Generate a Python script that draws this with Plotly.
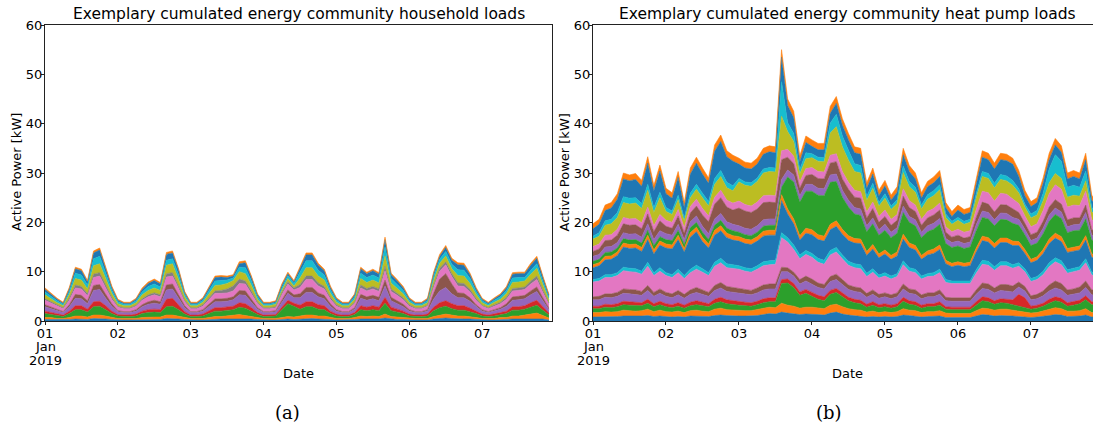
import pandas as pd
import plotly.graph_objects as go

# ---------------- time axis (2-hourly samples, 1-7 Jan 2019) ----------------
times = pd.date_range("2019-01-01 00:00", periods=84, freq="2h")
day_ticks = ["2019-01-01", "2019-01-02", "2019-01-03", "2019-01-04",
             "2019-01-05", "2019-01-06", "2019-01-07"]
day_labels = ["01", "02", "03", "04", "05", "06", "07"]
first_tick_extra = ["Jan", "2019"]
y_ticks = [0, 10, 20, 30, 40, 50, 60]

titles = ["Exemplary cumulated energy community household loads",
          "Exemplary cumulated energy community heat pump loads"]
panel_labels = ["(a)", "(b)"]

# ---------------- household loads [kW], stacked layers (bottom -> top) ----------------
hh_01 = [0.3,0.3,0.2,0.2,0.3,0.4,0.4,0.3,0.5,0.5,0.4,0.3, 0.2,0.2,0.2,0.2,0.3,0.3,0.3,0.3,0.5,0.5,0.4,0.3,
         0.2,0.2,0.2,0.3,0.4,0.4,0.4,0.4,0.4,0.5,0.4,0.3, 0.2,0.2,0.2,0.3,0.4,0.3,0.4,0.5,0.5,0.4,0.4,0.3,
         0.2,0.2,0.2,0.3,0.4,0.4,0.4,0.4,0.6,0.4,0.3,0.3, 0.2,0.2,0.2,0.2,0.4,0.5,0.6,0.5,0.4,0.4,0.4,0.3,
         0.2,0.2,0.2,0.3,0.3,0.4,0.4,0.4,0.4,0.5,0.4,0.2]
hh_02 = [0.4,0.4,0.3,0.3,0.4,0.6,0.6,0.5,0.7,0.7,0.6,0.4, 0.3,0.3,0.3,0.3,0.4,0.5,0.5,0.5,0.7,0.7,0.6,0.4,
         0.3,0.3,0.3,0.4,0.5,0.5,0.6,0.8,0.9,0.6,0.5,0.4, 0.3,0.3,0.3,0.4,0.5,0.5,0.6,0.7,0.7,0.6,0.6,0.4,
         0.3,0.3,0.3,0.4,0.6,0.5,0.6,0.5,0.8,0.5,0.5,0.4, 0.3,0.3,0.3,0.3,0.5,0.7,0.8,0.7,0.6,0.6,0.5,0.4,
         0.3,0.3,0.3,0.4,0.4,0.6,0.6,0.8,1.0,1.1,0.7,0.4]
hh_03 = [0.8,0.6,0.5,0.4,0.8,1.3,1.3,1.0,1.7,1.8,1.3,0.8, 0.5,0.4,0.4,0.5,0.8,0.9,1.0,0.9,1.7,1.8,1.3,0.7,
         0.4,0.4,0.5,0.8,1.1,1.1,1.1,1.1,1.5,1.5,1.1,0.6, 0.4,0.4,0.5,1.6,2.6,2.2,1.4,1.7,1.7,1.4,1.3,0.8,
         0.5,0.4,0.4,0.6,1.3,1.2,1.3,1.2,2.2,1.2,1.0,0.8, 0.5,0.4,0.4,0.5,1.2,1.5,1.6,1.3,1.2,1.2,1.0,0.8,
         0.5,0.4,0.5,0.6,0.8,1.2,1.2,1.2,1.4,1.6,1.1,0.6]
hh_04 = [0.5,0.4,0.4,0.3,0.5,0.8,0.8,0.6,1.0,1.0,0.8,0.5, 0.3,0.3,0.3,0.4,0.5,0.6,0.6,0.6,1.5,1.6,0.9,0.5,
         0.3,0.3,0.4,0.5,0.7,0.7,0.7,0.7,0.9,0.9,0.7,0.4, 0.3,0.3,0.3,0.5,0.7,0.6,0.8,1.0,1.0,0.9,0.8,0.5,
         0.4,0.3,0.3,0.4,0.8,0.7,0.8,0.7,1.2,0.7,0.6,0.5, 0.4,0.3,0.3,0.4,0.7,1.0,1.1,1.0,0.9,0.9,0.7,0.5,
         0.4,0.3,0.4,0.4,0.5,0.7,0.7,0.7,0.9,1.0,0.7,0.4]
hh_05 = [0.9,0.8,0.6,0.5,0.9,1.5,1.4,1.1,2.3,2.4,1.5,1.0, 0.6,0.5,0.5,0.6,0.9,1.1,1.2,1.1,1.9,1.9,1.4,0.8,
         0.5,0.5,0.6,1.0,1.2,1.2,1.2,1.3,1.6,1.7,1.2,0.7, 0.5,0.5,0.6,1.0,1.4,1.1,1.5,1.9,1.9,1.6,1.4,1.0,
         0.6,0.5,0.5,0.7,1.5,1.4,1.4,1.3,2.3,1.3,1.1,0.9, 0.6,0.5,0.5,0.6,1.6,2.4,2.7,2.0,1.6,1.6,1.4,0.9,
         0.6,0.5,0.6,0.7,1.0,1.3,1.4,1.4,1.6,1.8,1.2,0.7]
hh_06 = [0.4,0.3,0.3,0.2,0.4,0.8,0.7,0.6,1.0,1.0,0.8,0.5, 0.2,0.2,0.2,0.3,0.4,0.5,0.6,0.5,1.0,1.0,0.7,0.4,
         0.2,0.2,0.3,0.5,0.6,0.6,0.6,0.6,0.9,0.9,0.6,0.3, 0.2,0.2,0.2,0.5,0.7,0.6,0.8,1.0,1.0,0.8,0.7,0.5,
         0.3,0.2,0.2,0.3,0.8,0.7,0.7,0.7,1.2,0.7,0.6,0.5, 0.3,0.2,0.2,0.3,1.2,2.4,2.8,2.0,1.0,0.9,0.7,0.4,
         0.3,0.2,0.3,0.3,0.5,0.7,0.7,0.7,0.8,0.9,0.6,0.3]
hh_07 = [0.9,0.8,0.7,0.6,0.9,1.3,1.3,1.0,1.6,1.7,1.3,0.9, 0.7,0.6,0.6,0.7,0.9,1.0,1.1,1.0,1.6,1.6,1.3,0.8,
         0.6,0.6,0.7,0.9,1.1,1.1,1.1,1.2,1.4,1.4,1.1,0.8, 0.6,0.6,0.6,1.0,1.2,1.0,1.3,1.6,1.6,1.4,1.3,0.9,
         0.7,0.6,0.6,0.8,1.3,1.2,1.3,1.2,1.9,1.2,1.1,0.9, 0.7,0.6,0.6,0.7,1.2,1.6,1.8,1.5,1.4,1.4,1.2,0.9,
         0.7,0.6,0.7,0.8,0.9,1.2,1.2,1.2,1.4,1.5,1.1,0.8]
hh_08 = [0.3,0.3,0.2,0.2,0.4,0.6,0.5,0.4,0.7,0.7,0.6,0.4, 0.2,0.2,0.2,0.2,0.3,0.4,0.4,0.4,0.7,0.7,0.5,0.3,
         0.2,0.2,0.3,0.4,0.5,0.6,0.8,1.0,0.9,0.6,0.5,0.3, 0.2,0.2,0.2,0.4,0.5,0.4,0.6,0.7,0.7,0.6,0.5,0.4,
         0.3,0.2,0.2,0.3,0.6,0.5,0.5,0.5,0.9,0.5,0.4,0.4, 0.3,0.2,0.2,0.2,0.5,0.6,0.6,0.6,0.6,0.6,0.5,0.4,
         0.2,0.2,0.3,0.3,0.4,0.5,0.5,0.5,0.6,0.7,0.5,0.3]
hh_09 = [0.8,0.6,0.5,0.4,0.8,1.3,1.3,1.0,1.7,1.8,1.3,0.8, 0.5,0.4,0.4,0.5,0.8,0.9,1.0,0.9,1.7,1.8,1.3,0.7,
         0.4,0.4,0.5,0.8,1.1,1.1,1.1,1.1,1.5,1.5,1.1,0.6, 0.4,0.4,0.5,0.5,0.6,0.4,1.3,1.7,1.7,1.4,1.3,0.8,
         0.5,0.4,0.4,0.6,1.3,1.2,1.3,1.2,2.1,1.2,1.0,0.8, 0.5,0.4,0.4,0.5,0.9,1.0,1.2,1.0,1.5,1.5,1.2,0.8,
         0.5,0.4,0.5,0.6,0.8,1.2,1.2,1.2,1.4,1.6,1.1,0.6]
hh_10 = [0.6,0.5,0.4,0.3,0.6,1.1,1.0,0.8,1.4,1.5,1.1,0.7, 0.4,0.3,0.3,0.4,0.6,0.8,0.8,0.7,1.0,1.0,1.0,0.5,
         0.3,0.3,0.4,0.6,0.9,0.9,0.7,0.5,0.9,1.2,0.9,0.5, 0.3,0.3,0.3,0.5,0.6,0.5,1.1,1.4,1.4,1.2,1.0,0.7,
         0.4,0.3,0.3,0.5,1.1,1.0,1.0,1.0,1.8,0.9,0.8,0.7, 0.4,0.3,0.3,0.4,0.8,0.8,0.9,0.9,1.2,1.2,1.0,0.6,
         0.4,0.3,0.4,0.5,0.6,0.9,0.9,0.7,0.8,0.9,0.7,0.5]
hh_11 = [0.5,0.4,0.3,0.2,0.5,0.9,0.9,0.6,1.2,1.3,0.9,0.5, 0.3,0.2,0.2,0.3,0.5,0.6,0.7,0.6,1.2,1.2,0.9,0.4,
         0.2,0.2,0.3,0.5,0.7,0.7,0.5,0.4,0.7,1.0,0.7,0.4, 0.2,0.2,0.2,0.5,0.4,0.3,0.9,1.2,1.2,1.0,0.9,0.5,
         0.3,0.2,0.2,0.4,0.9,0.8,0.9,0.8,1.5,0.8,0.7,0.5, 0.3,0.2,0.2,0.3,0.6,0.6,0.8,0.8,1.0,1.0,0.8,0.5,
         0.3,0.2,0.3,0.4,0.5,0.8,0.8,0.8,1.0,1.1,0.7,0.4]
hh_12 = [0.3,0.2,0.2,0.2,0.3,0.3,0.3,0.3,0.4,0.4,0.3,0.3, 0.2,0.2,0.2,0.2,0.3,0.3,0.3,0.3,0.4,0.4,0.3,0.2,
         0.2,0.2,0.2,0.3,0.3,0.3,0.3,0.3,0.4,0.4,0.3,0.2, 0.2,0.2,0.2,0.3,0.3,0.3,0.3,0.4,0.4,0.4,0.3,0.3,
         0.2,0.2,0.2,0.2,0.3,0.3,0.3,0.3,0.5,0.3,0.3,0.3, 0.2,0.2,0.2,0.2,0.3,0.4,0.4,0.4,0.4,0.4,0.3,0.3,
         0.2,0.2,0.2,0.2,0.3,0.3,0.3,0.3,0.4,0.4,0.3,0.2]

# ---------------- heat pump loads [kW], stacked layers (bottom -> top) ----------------
hp_01 = [0.8,0.8,0.9,0.8,0.9,1.0,1.0,0.9,1.0,1.1,0.9,1.0, 0.9,0.8,0.9,0.8,1.0,1.0,0.9,0.9,1.1,1.2,1.1,1.0,
         1.0,1.0,1.0,1.1,1.3,1.5,1.4,1.8,1.6,1.5,1.3,1.4, 1.4,1.3,1.2,1.6,1.8,1.4,1.2,1.1,1.0,0.8,0.9,0.8,
         0.9,0.8,0.9,1.2,1.1,1.0,0.8,0.9,0.9,1.0,0.7,0.7, 0.7,0.7,0.7,1.0,1.3,1.2,1.0,1.1,1.1,1.0,0.9,0.8,
         0.7,0.8,0.9,1.1,1.3,1.2,0.9,0.9,1.0,1.2,0.8,0.8]
hp_02 = [0.9,0.9,1.0,1.0,1.0,1.2,1.1,1.1,1.1,1.3,1.0,1.2, 1.0,1.0,1.1,0.9,1.1,1.2,1.1,1.0,1.3,1.4,1.2,1.2,
         1.2,1.1,1.1,1.2,1.3,1.3,1.3,1.8,1.6,1.5,1.3,1.4, 1.4,1.3,1.3,1.6,1.6,1.5,1.3,1.2,1.2,1.0,1.1,0.9,
         1.0,0.9,1.0,1.3,1.1,1.1,0.9,1.0,1.0,1.1,0.9,0.8, 0.8,0.8,0.8,1.1,1.3,1.3,1.2,1.3,1.3,1.2,1.1,1.0,
         0.9,0.9,1.1,1.3,1.4,1.3,1.1,1.1,1.1,1.3,0.9,0.9]
hp_03 = [0.8,0.8,0.9,0.9,1.0,1.1,1.1,1.1,1.0,1.2,1.0,1.1, 1.0,0.9,1.0,0.9,1.0,1.1,1.1,1.0,1.2,1.3,1.2,1.1,
         1.0,1.0,0.9,1.0,1.1,1.1,1.2,4.0,4.5,3.8,2.6,2.8, 2.2,1.8,1.6,2.2,2.4,2.0,1.6,1.4,1.3,1.0,1.2,1.0,
         1.0,0.9,1.0,1.5,1.2,1.1,0.9,1.0,1.0,1.1,0.8,0.8, 0.8,0.8,0.8,1.1,1.5,1.4,1.2,1.3,1.2,1.1,1.0,0.9,
         0.8,0.9,1.0,1.2,1.4,1.3,1.0,1.2,1.4,1.8,1.6,1.6]
hp_04 = [0.5,0.5,0.6,0.6,0.6,0.7,0.7,0.7,0.6,0.8,0.6,0.7, 0.6,0.6,0.7,0.6,0.7,0.8,0.7,0.6,0.8,0.9,0.8,0.8,
         0.7,0.7,0.7,0.7,0.8,0.8,0.8,0.8,0.8,0.8,0.7,0.8, 0.8,0.8,0.8,0.8,0.8,0.8,0.7,0.7,0.7,0.6,0.7,0.6,
         0.6,0.6,0.6,0.8,0.7,0.7,0.6,0.6,0.6,0.7,0.5,0.5, 0.5,0.5,0.5,0.7,0.8,0.8,0.7,0.8,0.8,1.0,2.4,2.0,
         0.6,0.6,0.6,0.8,0.8,0.8,0.7,0.7,0.7,0.8,0.6,0.6]
hp_05 = [1.3,1.3,1.4,1.4,1.5,1.6,1.6,1.6,1.5,1.8,1.5,1.6, 1.5,1.4,1.6,1.4,1.6,1.7,1.6,1.5,1.8,1.9,1.7,1.7,
         1.7,1.6,1.6,1.7,1.8,1.8,1.8,1.6,1.5,1.5,1.6,1.7, 1.7,1.6,1.6,1.8,1.8,1.7,1.6,1.6,1.6,1.4,1.5,1.3,
         1.4,1.3,1.4,1.7,1.5,1.5,1.3,1.4,1.4,1.5,1.2,1.2, 1.2,1.2,1.2,1.5,1.7,1.7,1.6,1.7,1.7,1.6,1.5,1.4,
         1.3,1.3,1.5,1.7,1.8,1.7,1.5,1.5,1.5,1.7,1.4,1.3]
hp_06 = [0.6,0.7,0.7,0.8,0.8,0.9,0.9,0.9,0.8,1.0,0.8,0.9, 0.8,0.8,0.9,0.8,0.9,1.0,0.9,0.8,1.0,1.1,1.0,1.0,
         1.0,0.9,0.9,1.0,1.0,1.0,1.0,0.9,0.8,0.8,0.9,1.0, 1.0,0.9,0.9,1.0,1.1,1.0,0.9,0.9,0.9,0.8,0.9,0.8,
         0.8,0.8,0.8,1.0,0.9,0.9,0.8,0.8,0.8,0.9,0.7,0.7, 0.7,0.7,0.7,0.9,1.1,1.1,1.0,1.2,1.3,1.2,1.0,0.9,
         0.8,0.9,1.0,1.2,1.4,1.3,1.1,1.1,1.2,1.3,1.0,1.0]
hp_07 = [3.0,3.1,3.3,3.3,3.4,3.7,3.6,3.6,3.5,3.9,3.4,3.6, 3.4,3.3,3.6,3.2,3.5,3.7,3.6,3.4,3.9,4.0,3.8,3.8,
         3.9,3.8,3.7,3.8,3.9,3.9,4.0,6.0,5.2,4.6,4.2,4.4, 4.4,4.2,4.1,4.4,4.5,4.2,4.0,3.9,3.9,3.4,3.6,3.3,
         3.4,3.2,3.3,3.9,3.6,3.5,3.2,3.3,3.4,3.5,3.0,2.9, 2.9,2.8,2.9,3.4,3.8,3.8,3.6,3.8,3.8,3.6,3.2,3.0,
         2.9,3.0,3.3,3.7,3.9,3.8,3.4,3.5,3.4,3.7,3.0,3.0]
hp_08 = [0.5,0.5,0.6,0.6,0.6,0.7,0.7,0.7,0.6,0.8,0.6,0.7, 0.6,0.6,0.7,0.6,0.7,0.8,0.7,0.6,0.8,0.9,0.8,0.8,
         0.7,0.7,0.7,0.7,0.8,0.8,0.8,1.0,0.9,0.9,0.8,0.8, 0.8,0.8,0.8,0.9,0.9,0.8,0.8,0.8,0.8,0.7,0.7,0.6,
         0.7,0.6,0.6,0.8,0.7,0.7,0.6,0.6,0.7,0.7,0.6,0.5, 0.5,0.5,0.5,0.7,0.8,0.8,0.7,0.8,0.8,0.7,0.7,0.6,
         0.6,0.6,0.7,0.8,0.8,0.8,0.7,0.7,0.7,0.8,0.6,0.6]
hp_09 = [2.4,2.6,3.0,3.1,3.5,4.1,4.0,4.2,4.0,4.6,3.8,4.6, 5.0,5.2,6.0,4.8,6.5,6.8,5.5,5.0,5.5,5.6,5.3,5.0,
         5.0,4.9,4.9,5.0,5.2,5.2,5.1,6.5,4.8,4.3,3.0,3.5, 3.8,3.8,3.9,4.2,4.3,4.2,4.2,4.2,4.3,3.6,4.0,3.5,
         3.8,3.4,3.6,4.4,4.1,3.9,3.4,3.8,3.9,4.0,3.2,2.9, 3.2,3.0,3.1,3.6,4.0,3.9,3.8,3.9,3.9,3.9,3.5,3.1,
         3.2,3.3,3.6,3.9,4.0,3.9,3.5,3.5,3.4,3.8,3.0,2.8]
hp_10 = [0.6,0.6,0.7,0.7,0.7,0.8,0.8,0.8,0.8,0.9,0.8,0.8, 0.8,0.8,0.9,0.7,0.9,0.9,0.9,0.8,1.0,1.0,0.9,0.9,
         0.9,0.9,0.9,0.9,1.0,1.0,1.0,1.2,1.0,1.0,0.9,1.0, 1.0,1.0,1.0,1.1,1.1,1.0,1.0,0.9,0.9,0.8,0.9,0.8,
         0.8,0.8,0.8,1.0,0.9,0.9,0.8,0.8,0.9,0.9,0.7,0.7, 0.7,0.7,0.7,0.8,0.9,0.9,0.9,0.9,0.9,0.9,0.8,0.8,
         0.7,0.7,0.8,0.9,1.0,1.0,0.8,0.8,0.8,0.9,0.7,0.7]
hp_11 = [0.7,0.7,0.8,0.8,0.8,0.9,0.9,0.9,0.9,1.0,0.9,0.9, 0.9,0.9,1.0,0.8,1.0,1.0,1.0,0.9,1.0,1.1,1.0,1.0,
         0.9,0.9,0.9,0.9,1.0,1.0,1.0,1.5,6.5,7.5,6.8,7.5, 7.8,8.0,8.2,8.5,8.0,6.5,5.8,5.0,4.8,4.0,4.2,3.8,
         4.0,3.6,3.8,4.4,4.2,4.0,3.6,3.9,4.0,4.2,3.4,3.2, 3.2,3.0,3.1,3.5,3.8,3.8,3.6,3.8,3.7,3.6,3.3,3.0,
         2.8,2.8,3.2,3.6,3.8,3.7,3.2,3.3,3.2,3.4,2.8,2.6]
hp_12 = [1.0,1.0,1.1,1.1,1.1,1.2,1.2,1.2,1.2,1.3,1.2,1.2, 1.2,1.1,1.2,1.0,1.2,1.3,1.2,1.2,1.3,1.4,1.3,1.3,
         1.3,1.3,1.3,1.3,1.3,1.3,1.3,1.6,1.4,1.4,1.3,1.4, 1.4,1.4,1.4,1.5,1.5,1.4,1.4,1.3,1.3,1.2,1.2,1.1,
         1.2,1.1,1.1,1.3,1.2,1.2,1.1,1.2,1.2,1.2,1.0,1.0, 1.0,1.0,1.0,1.2,1.3,1.3,1.2,1.3,1.3,1.2,1.2,1.1,
         1.0,1.0,1.1,1.3,1.3,1.3,1.2,1.2,1.2,1.3,1.0,1.0]
hp_13 = [1.0,1.1,1.3,1.3,1.5,1.8,1.8,1.8,1.7,2.0,1.6,2.0, 1.5,1.4,1.7,1.3,1.8,2.0,2.3,2.4,3.0,3.2,3.0,2.9,
         3.6,3.5,3.4,3.4,3.5,3.4,3.3,4.0,2.6,2.3,1.5,1.8, 2.0,2.0,2.0,2.4,2.5,2.3,2.2,2.1,2.2,1.6,1.9,1.5,
         1.6,1.4,1.5,2.0,1.8,1.7,1.4,1.6,1.7,1.7,1.3,1.1, 1.2,1.1,1.1,1.5,1.8,1.7,1.6,1.7,1.7,1.7,1.4,1.2,
         1.2,1.2,1.4,1.6,1.7,1.6,1.4,1.4,1.3,1.5,1.1,1.0]
hp_14 = [1.0,1.0,1.1,1.1,1.2,1.3,1.3,1.3,1.2,1.4,1.2,1.3, 1.2,1.2,1.3,1.1,1.3,1.4,1.3,1.2,1.4,1.5,1.4,1.4,
         1.4,1.3,1.3,1.4,1.4,1.4,1.4,1.8,1.6,1.5,1.3,1.4, 1.4,1.4,1.4,1.6,1.6,1.5,1.4,1.4,1.3,1.2,1.3,1.2,
         1.3,1.2,1.2,1.5,1.4,1.3,1.2,1.3,1.3,1.4,1.1,1.1, 1.2,1.2,1.2,1.6,2.2,2.3,2.2,2.3,2.2,2.1,1.8,1.5,
         1.6,1.7,2.2,2.7,3.0,3.0,2.6,2.6,2.5,2.8,2.0,1.9]
hp_15 = [1.5,1.6,2.0,2.2,2.4,3.0,3.0,3.1,2.9,3.4,2.7,3.4, 1.8,1.6,2.0,1.4,1.8,2.0,2.2,2.0,2.6,2.8,2.5,2.5,
         3.9,3.9,4.0,4.2,4.6,4.8,4.8,7.0,3.6,3.0,1.6,2.0, 2.0,2.1,2.1,4.5,5.5,5.0,4.5,3.8,3.8,2.4,2.8,2.1,
         2.4,2.0,2.2,3.3,2.8,2.6,2.1,2.5,2.6,2.7,1.9,1.5, 1.8,1.6,1.7,2.4,3.0,2.9,2.7,2.8,2.7,2.7,2.2,1.8,
         1.8,1.8,2.0,2.2,2.3,2.2,2.0,2.0,1.9,2.1,1.6,1.4]
hp_16 = [0.6,0.7,0.9,0.9,1.0,1.2,1.2,1.1,1.0,1.2,1.0,1.1, 0.8,0.7,0.9,0.6,0.9,1.0,0.9,0.9,1.2,1.2,1.1,1.0,
         0.7,0.7,0.7,0.7,0.8,0.8,0.8,7.0,1.8,1.6,0.9,1.2, 0.8,0.8,0.8,2.0,2.5,2.2,2.0,1.6,1.5,0.8,1.0,0.7,
         0.9,0.7,0.8,1.3,1.1,1.0,0.8,0.9,1.0,1.0,0.7,0.6, 0.6,0.6,0.6,0.8,1.0,1.0,0.9,1.0,1.0,1.0,0.8,0.6,
         0.8,0.9,1.5,2.8,3.8,3.5,2.0,2.0,1.8,2.0,0.9,0.7]
hp_17 = [1.5,1.7,2.1,2.3,2.7,3.6,3.5,3.7,3.5,4.3,3.4,4.3, 2.8,2.6,3.6,2.1,3.9,4.3,3.9,3.7,5.5,5.9,5.2,5.0,
         2.9,2.8,2.8,2.8,3.0,3.2,3.1,5.0,3.5,3.2,1.6,2.1, 1.5,1.5,1.6,2.0,2.2,2.2,2.1,2.2,2.3,1.6,1.9,1.4,
         1.6,1.2,1.5,2.3,2.0,1.7,1.4,1.6,1.6,1.7,1.3,1.0, 1.5,1.4,1.4,2.1,2.9,2.8,2.9,3.0,3.1,3.3,2.5,1.7,
         1.5,1.6,2.0,1.9,2.0,1.8,1.7,1.8,1.7,2.3,1.5,1.1]
hp_18 = [1.0,1.0,1.1,1.1,1.1,1.2,1.2,1.2,1.2,1.3,1.1,1.2, 1.1,1.1,1.2,1.0,1.2,1.2,1.2,1.1,1.3,1.3,1.2,1.2,
         1.2,1.2,1.2,1.2,1.2,1.2,1.2,1.5,1.3,1.3,1.2,1.3, 1.3,1.3,1.3,1.4,1.4,1.3,1.3,1.2,1.2,1.1,1.2,1.1,
         1.1,1.0,1.1,1.3,1.2,1.2,1.1,1.1,1.2,1.2,1.0,1.0, 1.0,1.0,1.0,1.1,1.3,1.3,1.2,1.3,1.3,1.2,1.2,1.1,
         1.0,1.0,1.1,1.3,1.3,1.3,1.2,1.2,1.2,1.3,1.0,1.0]

# ---------------- styling ----------------
BLUE, ORANGE, GREEN, RED, PURPLE = "#1f77b4", "#ff7f0e", "#2ca02c", "#d62728", "#9467bd"
BROWN, PINK, GRAY, OLIVE, CYAN = "#8c564b", "#e377c2", "#7f7f7f", "#bcbd22", "#17becf"

hh_layers = [hh_01, hh_02, hh_03, hh_04, hh_05, hh_06, hh_07, hh_08, hh_09, hh_10, hh_11, hh_12]
hh_colors = [BLUE, ORANGE, GREEN, RED, PURPLE, BROWN, PINK, GRAY, OLIVE, CYAN, BLUE, ORANGE]
hp_layers = [hp_01, hp_02, hp_03, hp_04, hp_05, hp_06, hp_07, hp_08, hp_09,
             hp_10, hp_11, hp_12, hp_13, hp_14, hp_15, hp_16, hp_17, hp_18]
hp_colors = [BLUE, ORANGE, GREEN, RED, PURPLE, BROWN, PINK, CYAN, BLUE,
             ORANGE, GREEN, PURPLE, BROWN, PINK, OLIVE, CYAN, BLUE, ORANGE]

FONT = "DejaVu Sans"
AXC = "#222222"

fig = go.Figure()
for vals, col in zip(hh_layers, hh_colors):
    fig.add_trace(go.Scatter(x=times, y=vals, stackgroup="hh", mode="lines",
                             line=dict(color=col, width=0.6), fillcolor=col,
                             xaxis="x", yaxis="y", showlegend=False, hoverinfo="skip"))
for vals, col in zip(hp_layers, hp_colors):
    fig.add_trace(go.Scatter(x=times, y=vals, stackgroup="hp", mode="lines",
                             line=dict(color=col, width=0.6), fillcolor=col,
                             xaxis="x2", yaxis="y2", showlegend=False, hoverinfo="skip"))

W, H = 1093, 431
ML, MR, MT, MB = 45, 0, 25, 110
PW = W - ML - MR
PH = H - MT - MB


def px_x(px):
    return (px - ML) / PW


def px_y(py):
    return (H - MB - py) / PH


xcommon = dict(type="date", tickvals=day_ticks, ticktext=day_labels,
               ticks="outside", ticklen=3, tickcolor=AXC, showline=True,
               linecolor=AXC, linewidth=1, mirror=True, showgrid=False,
               zeroline=False, ticklabelstandoff=-3,
               tickfont=dict(family=FONT, size=13, color="black"))
ycommon = dict(range=[0, 60], tickvals=y_ticks, ticks="outside", ticklen=3,
               tickcolor=AXC, showline=True, linecolor=AXC, linewidth=1,
               showgrid=False, zeroline=False, ticklabelstandoff=-4,
               tickfont=dict(family=FONT, size=13, color="black"))

left_end = 552
right_start = 593

fig.update_layout(
    width=W, height=H,
    margin=dict(l=ML, r=MR, t=MT, b=MB, pad=0),
    paper_bgcolor="white", plot_bgcolor="white",
    xaxis=dict(domain=[0, px_x(left_end)], anchor="y",
               range=["2019-01-01 00:00", "2019-01-07 23:00"], **xcommon),
    yaxis=dict(domain=[0, 1], anchor="x", mirror=True, **ycommon),
    xaxis2=dict(domain=[px_x(right_start), 1], anchor="y2",
                range=["2019-01-01 00:00", "2019-01-07 20:24"], **xcommon),
    yaxis2=dict(domain=[0, 1], anchor="x2", mirror=False, **ycommon),
)

ann = []
for cx, title in zip([298.5, 847], titles):
    ann.append(dict(x=px_x(cx), y=1, xref="paper", yref="paper", text=title,
                    showarrow=False, xanchor="center", yanchor="bottom",
                    font=dict(family=FONT, size=15.5, color="black")))
# second and third line of the first date tick ("Jan", "2019")
for xr in ["x", "x2"]:
    for py, txt in zip([346, 360.5], first_tick_extra):
        ann.append(dict(x=day_ticks[0], y=px_y(py), xref=xr, yref="paper", text=txt,
                        showarrow=False, xanchor="center", yanchor="middle",
                        font=dict(family=FONT, size=13, color="black")))
for cx in [298.5, 847]:
    ann.append(dict(x=px_x(cx), y=px_y(374), xref="paper", yref="paper", text="Date",
                    showarrow=False, xanchor="center", yanchor="middle",
                    font=dict(family=FONT, size=13, color="black")))
for cx in [16.5, 564]:
    ann.append(dict(x=px_x(cx), y=px_y(172.5), xref="paper", yref="paper",
                    text="Active Power [kW]", textangle=-90, showarrow=False,
                    xanchor="center", yanchor="middle",
                    font=dict(family=FONT, size=13, color="black")))
for cx, lab in zip([287, 829], panel_labels):
    ann.append(dict(x=px_x(cx), y=px_y(412), xref="paper", yref="paper", text=lab,
                    showarrow=False, xanchor="center", yanchor="middle",
                    font=dict(family="DejaVu Serif", size=18, color="black")))
fig.update_layout(annotations=ann)

fig.write_html("out.html")
